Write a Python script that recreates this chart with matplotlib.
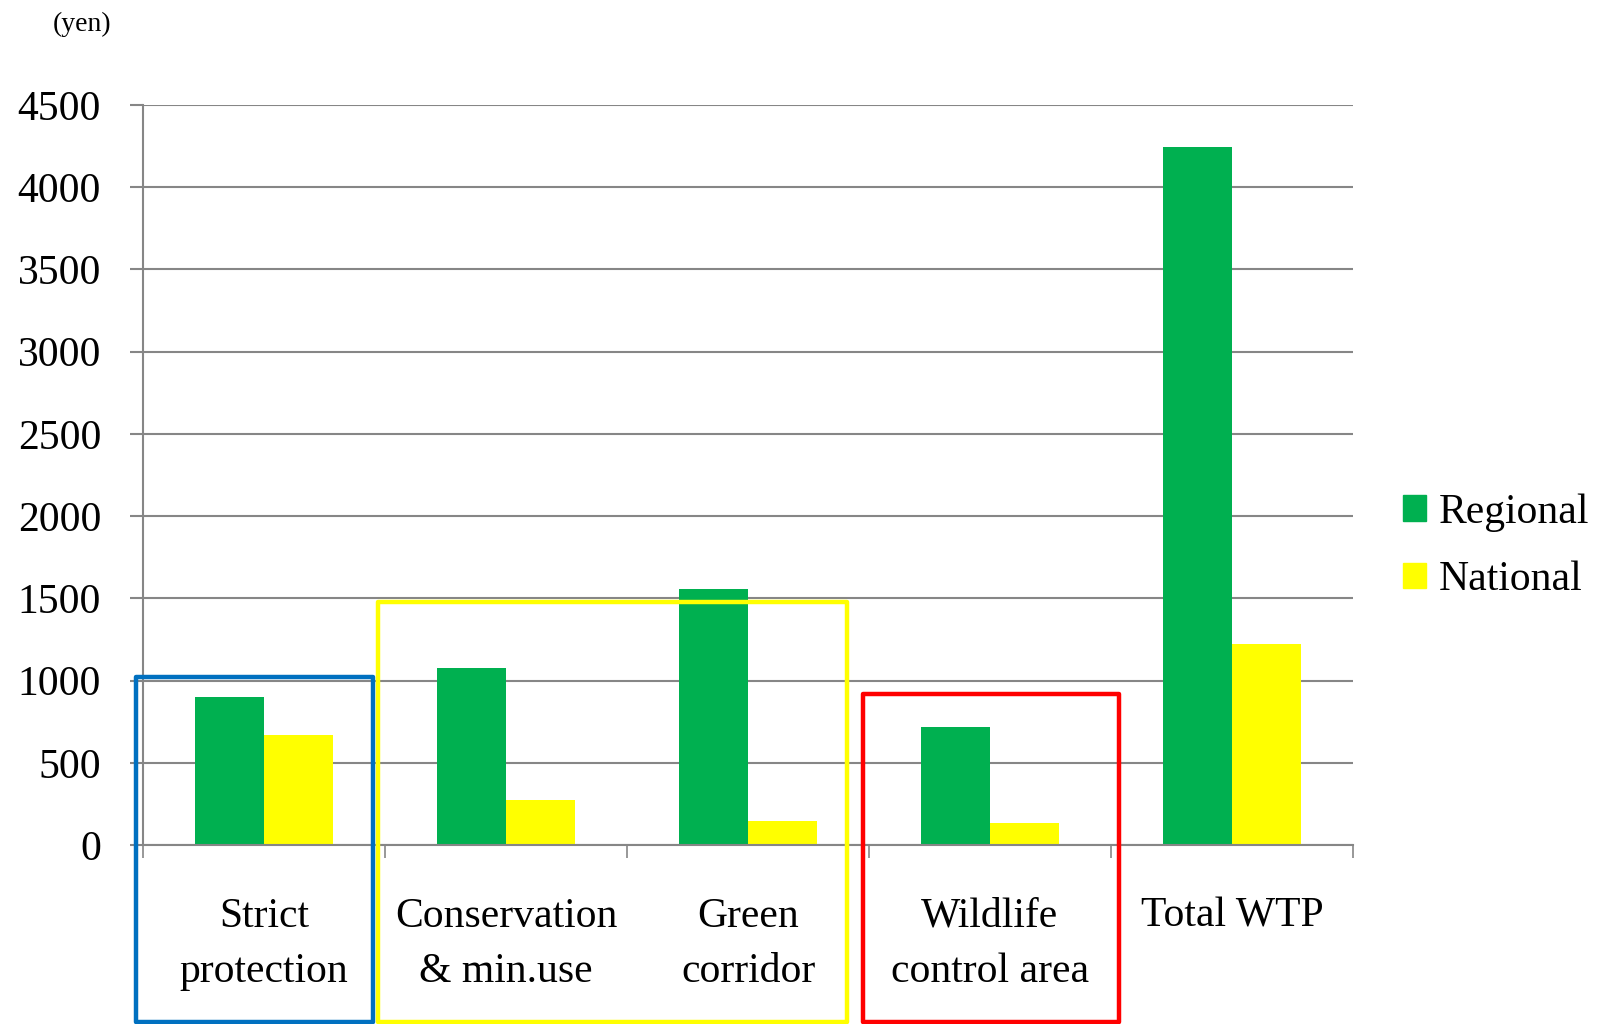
import matplotlib.pyplot as plt
from matplotlib.patches import Rectangle, Patch
import numpy as np

categories = ["Strict\nprotection", "Conservation\n& min.use", "Green\ncorridor",
              "Wildlife\ncontrol area", "Total WTP"]
regional = [900, 1075, 1555, 715, 4245]
national = [668, 276, 146, 136, 1222]
series_names = ["Regional", "National"]
yticks = [0, 500, 1000, 1500, 2000, 2500, 3000, 3500, 4000, 4500]

GREEN = '#00B050'
YELLOW = '#FFFF00'
GRID = '#868686'

# group boxes: (x from, x to, top value, colour)
boxes = [(-0.53, 0.45, 1020, '#0070C0'),
         (0.47, 2.41, 1476, '#FFFF00'),
         (2.475, 3.535, 921, '#FF0000')]

plt.rcParams['font.family'] = ['Liberation Serif', 'DejaVu Serif']

fig = plt.figure(figsize=(16, 10.24), dpi=100)
ax = fig.add_axes([0.0894, 0.1748, 0.7562, 0.7227])

x = np.arange(len(categories))
w = 0.286
ax.bar(x - w / 2, regional, w, color=GREEN, zorder=2)
ax.bar(x + w / 2, national, w, color=YELLOW, zorder=2)

ax.set_xlim(-0.5, len(categories) - 0.5)
ax.set_ylim(0, 4500)
ax.set_yticks(yticks)
ax.set_yticklabels([str(v) for v in yticks])
ax.yaxis.grid(True, color=GRID, linewidth=1.5, zorder=0)
ax.set_axisbelow(True)

# tick marks on category boundaries, labels drawn separately
ax.set_xticks(np.arange(len(categories) + 1) - 0.5)
ax.set_xticklabels([])
ax.tick_params(axis='x', length=9.2, width=1.2, color=GRID, direction='out')
ax.tick_params(axis='y', length=9.2, width=1.5, color=GRID, direction='out',
               pad=21, labelsize=30)

for side in ['top', 'right']:
    ax.spines[side].set_visible(False)
for side in ['left', 'bottom']:
    ax.spines[side].set_color(GRID)
    ax.spines[side].set_linewidth(1.5)

# category names, one text per line so the first baselines line up
trans = ax.get_xaxis_transform()
for i, lab in enumerate(categories):
    for k, line in enumerate(lab.split('\n')):
        ax.text(i, -0.1105 - k * 0.0743, line, transform=trans,
                ha='center', va='baseline', fontsize=30)

for x0, x1, top, col in boxes:
    bottom = -1078
    ax.add_patch(Rectangle((x0, bottom), x1 - x0, top - bottom, fill=False,
                           edgecolor=col, linewidth=3.2, joinstyle='round',
                           clip_on=False, zorder=5))

fig.text(53 / 1600, 1 - 31 / 1024, "(yen)", fontsize=20, ha='left', va='baseline')

handles = [Patch(color=GREEN), Patch(color=YELLOW)]
fig.legend(handles, series_names, loc='center left',
           bbox_to_anchor=(1403 / 1600, 0.4665), frameon=False, fontsize=30,
           handlelength=0.55, handleheight=0.55, handletextpad=0.3,
           labelspacing=0.7, borderpad=0, borderaxespad=0)

fig.savefig('out.png', dpi=100)
